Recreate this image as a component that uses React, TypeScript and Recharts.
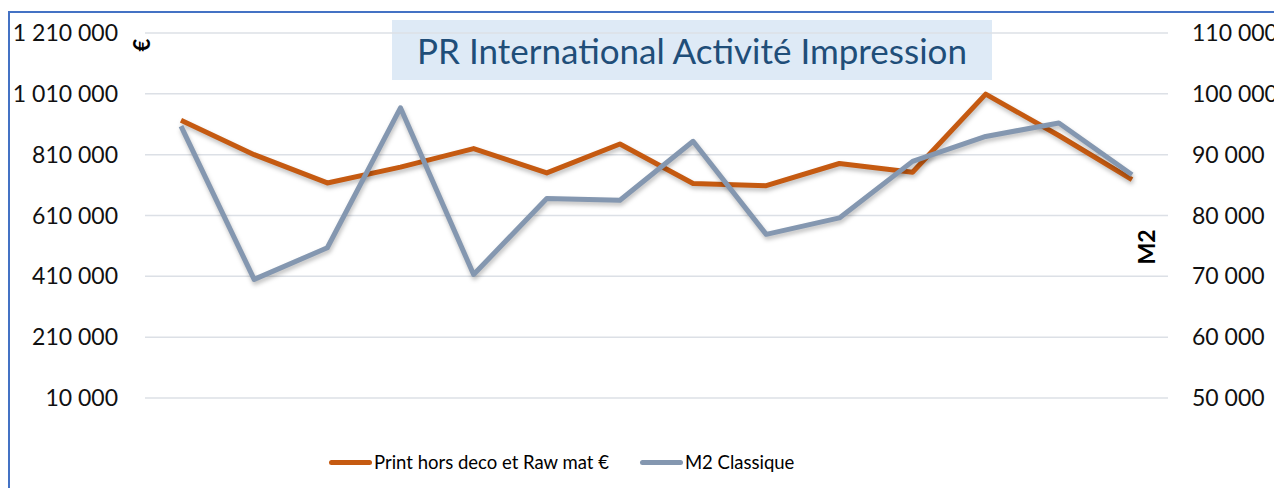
import React from 'react';
import { LineChart, Line, XAxis, YAxis, CartesianGrid, Legend } from 'recharts';

// 14 periods, no visible category labels on the original chart
const periods = ['P1', 'P2', 'P3', 'P4', 'P5', 'P6', 'P7', 'P8', 'P9', 'P10', 'P11', 'P12', 'P13', 'P14'];

// Print hors deco et Raw mat (€) - left axis
const printEuro = [923000, 810000, 717000, 769000, 830000, 750000, 845000, 715000, 708000, 781000, 752000, 1009000, 873000, 728000];

// M2 Classique (m²) - right axis
const m2Classique = [94700, 69500, 74700, 97700, 70300, 82800, 82500, 92200, 76900, 79600, 88900, 93000, 95200, 86700];

const leftTicks = [10000, 210000, 410000, 610000, 810000, 1010000, 1210000];
const rightTicks = [50000, 60000, 70000, 80000, 90000, 100000, 110000];

const ORANGE = '#C55A11';
const BLUE = '#8497B0';
const FONT = 'Lato, "Open Sans", sans-serif';

const fmt = (v: number) => String(v).replace(/\B(?=(\d{3})+(?!\d))/g, ' ');

const data = periods.map((p, i) => ({ period: p, print: printEuro[i], m2: m2Classique[i] }));

const series = [
  { key: 'print', name: 'Print hors deco et Raw mat €', color: ORANGE },
  { key: 'm2', name: 'M2 Classique', color: BLUE },
];

function LegendContent() {
  return (
    <div style={{ height: 30, display: 'flex', justifyContent: 'flex-start', paddingLeft: 329, alignItems: 'center', fontFamily: FONT, fontSize: 18.5, color: '#000' }}>
      {series.map((s, i) => (
        <div key={s.key} style={{ display: 'flex', alignItems: 'center', marginLeft: i ? 31 : 0 }}>
          <span style={{ display: 'inline-block', width: 43, height: 5, borderRadius: 3, background: s.color, marginRight: 2 }} />
          <span>{s.name}</span>
        </div>
      ))}
    </div>
  );
}

export default function App() {
  return (
    <div style={{ position: 'relative', width: 1282, height: 496, margin: -8, overflow: 'hidden', background: '#fff' }}>
      <div style={{ position: 'absolute', left: 8, top: 11, width: 1300, height: 500, borderLeft: '2px solid #4472C4', borderTop: '2px solid #4472C4' }} />
      <div style={{ position: 'absolute', left: 392, top: 20, width: 600, height: 60, background: '#DEEAF6', display: 'flex', alignItems: 'center', justifyContent: 'center', fontFamily: FONT, fontSize: 35, color: '#1F4E79' }}>
        PR International Activité Impression
      </div>
      <div style={{ position: 'absolute', left: 0, top: 0 }}>
        <LineChart width={1282} height={496} data={data} margin={{ top: 33, right: 0, bottom: 68, left: 0 }}>
          <CartesianGrid vertical={false} stroke="#DCE0E6" strokeWidth={1.5} yAxisId="left" />
          <XAxis dataKey="period" hide padding={{ left: 36, right: 36 }} />
          <YAxis
            yAxisId="left"
            width={145}
            domain={[10000, 1210000]}
            ticks={leftTicks}
            tickFormatter={fmt}
            axisLine={false}
            tickLine={false}
            tickSize={0}
            tickMargin={27}
            tick={{ fill: '#111', fontSize: 23, fontFamily: FONT }}
            label={({ viewBox }: any) => (
              <text x={viewBox.x + viewBox.width - 4} y={viewBox.y + 12} textAnchor="middle" transform={`rotate(-90 ${viewBox.x + viewBox.width - 4} ${viewBox.y + 12})`} dominantBaseline="central" fontFamily={FONT} fontWeight="bold" fontSize={22} fill="#000">
                €
              </text>
            )}
          />
          <YAxis
            yAxisId="right"
            orientation="right"
            width={114}
            domain={[50000, 110000]}
            ticks={rightTicks}
            tickFormatter={fmt}
            axisLine={false}
            tickLine={false}
            tickSize={0}
            tickMargin={24}
            tick={{ fill: '#111', fontSize: 23, fontFamily: FONT }}
            label={({ viewBox }: any) => (
              <text x={viewBox.x - 22} y={viewBox.y + 214} textAnchor="middle" transform={`rotate(-90 ${viewBox.x - 22} ${viewBox.y + 214})`} dominantBaseline="central" fontFamily={FONT} fontWeight="bold" fontSize={23} fill="#000">
                M2
              </text>
            )}
          />
          {series.map((s) => (
            <Line
              key={s.key}
              yAxisId={s.key === 'print' ? 'left' : 'right'}
              type="linear"
              dataKey={s.key}
              name={s.name}
              stroke={s.color}
              strokeWidth={5}
              dot={false}
              activeDot={false}
              strokeLinejoin="round"
              style={{ filter: 'drop-shadow(1px 3px 2px rgba(0,0,0,0.25))' }}
              isAnimationActive={false}
            />
          ))}
          <Legend verticalAlign="bottom" wrapperStyle={{ top: 447, bottom: 'auto', left: 0, width: 1282 }} content={() => <LegendContent />} />
        </LineChart>
      </div>
    </div>
  );
}
